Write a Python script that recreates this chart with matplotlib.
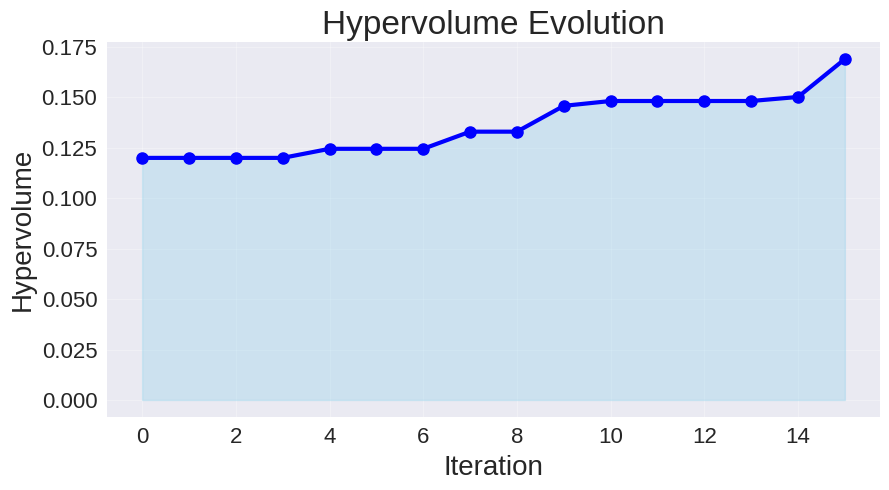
import matplotlib
matplotlib.use("Agg")
import matplotlib.pyplot as plt

iterations = list(range(16))
hypervolume = [0.120, 0.120, 0.120, 0.120, 0.1245, 0.1245, 0.1245, 0.133, 0.133,
               0.1458, 0.1482, 0.1482, 0.1482, 0.1482, 0.1502, 0.169]

plt.style.use("seaborn-v0_8-darkgrid")
plt.rcParams['font.family'] = ['Liberation Sans', 'DejaVu Sans']

fig = plt.figure(figsize=(8.89, 4.90), dpi=100)
ax = fig.add_axes([107/889, 1 - 417/490, (880 - 107)/889, (417 - 42)/490])
ax.plot(iterations, hypervolume, color='blue', linewidth=3, marker='o', markersize=8)
ax.fill_between(iterations, hypervolume, color='skyblue', alpha=0.3)
ax.set_title("Hypervolume Evolution", fontsize=24)
ax.set_xlabel("Iteration", fontsize=20, labelpad=5)
ax.set_ylabel("Hypervolume", fontsize=20)
ax.tick_params(labelsize=16, pad=7)
ax.grid(True, alpha=0.3)
fig.savefig("out.png", dpi=100)
